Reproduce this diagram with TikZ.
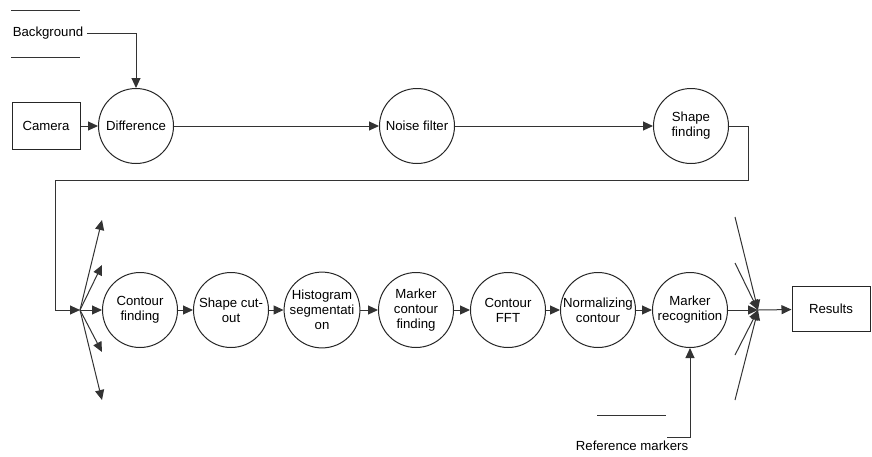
\documentclass[tikz,border=0pt]{standalone}
\usepackage{fontspec}
\setmainfont{Liberation Sans}
\usetikzlibrary{arrows.meta}
\begin{document}
\begin{tikzpicture}[x=1pt,y=-1pt,
  every node/.style={font=\fontsize{13.2}{15}\selectfont, text=black},
  proc/.style={draw=black!85, line width=1pt, circle, minimum size=75pt, inner sep=0pt, align=center},
  box/.style={draw=black!85, line width=1pt, rectangle, inner sep=0pt},
  conn/.style={draw=black!80, line width=1pt},
  arr/.style={conn, -{Triangle[length=10pt,width=9pt]}}]
\useasboundingbox (0,0) rectangle (872,456);

% top row
\node[box, minimum width=68pt, minimum height=47pt] (cam) at (46,126) {Camera};
\node[proc] (diff) at (136,126) {Difference};
\node[proc] (noise) at (417,126) {Noise filter};
\node[proc] (sf) at (691,126) {Shape\\finding};

% background store
\node (bg) at (48,33) {Background};
\draw[conn] (11,10) -- (80,10);
\draw[conn] (11,57) -- (80,57);
\draw[arr] (bg.east) -| (diff.north);

\draw[arr] (cam) -- (diff);
\draw[arr] (diff) -- (noise);
\draw[arr] (noise) -- (sf);

% bottom row
\node[proc] (cf) at (140,310) {Contour\\finding};
\node[proc] (sc) at (231,310) {Shape cut-\\out};
\node[proc] (hs) at (322,310) {Histogram\\segmentati\\on};
\node[proc] (mc) at (416,310) {Marker\\contour\\finding};
\node[proc] (fft) at (508,310) {Contour\\FFT};
\node[proc] (nc) at (598,310) {Normalizing\\contour};
\node[proc] (mr) at (690,310) {Marker\\recognition};
\node[box, minimum width=78pt, minimum height=45pt] (res) at (831,309) {Results};

% link from top row to bottom row
\coordinate (fanL) at (80,310);
\coordinate (t1) at (748,180);
\coordinate (t2) at (55,180);
\draw[arr] (sf.east) -| (t1) -- (t2) |- (fanL);

% left fan
\coordinate (la) at (102,220);
\coordinate (lb) at (102,265);
\coordinate (ld) at (102,352);
\coordinate (le) at (102,400);
\draw[arr] (fanL) -- (la);
\draw[arr] (fanL) -- (lb);
\draw[arr] (fanL) -- (ld);
\draw[arr] (fanL) -- (le);
\draw[arr] (fanL) -- (cf);

\draw[arr] (cf) -- (sc);
\draw[arr] (sc) -- (hs);
\draw[arr] (hs) -- (mc);
\draw[arr] (mc) -- (fft);
\draw[arr] (fft) -- (nc);
\draw[arr] (nc) -- (mr);

% right fan
\coordinate (fanR) at (758,310);
\coordinate (ra) at (735,217);
\coordinate (rb) at (735,263);
\coordinate (rd) at (735,355);
\coordinate (re) at (735,400);
\draw[arr] (ra) -- (fanR);
\draw[arr] (rb) -- (fanR);
\draw[arr] (rd) -- (fanR);
\draw[arr] (re) -- (fanR);
\draw[arr] (mr) -- (fanR);
\draw[arr] (fanR) -- (res);

% reference markers
\node (ref) at (632,446) {Reference markers};
\draw[conn] (597,415) -- (666,415);
\coordinate (r1) at (667,437);
\draw[arr] (r1) -| (mr.south);
\end{tikzpicture}
\end{document}
